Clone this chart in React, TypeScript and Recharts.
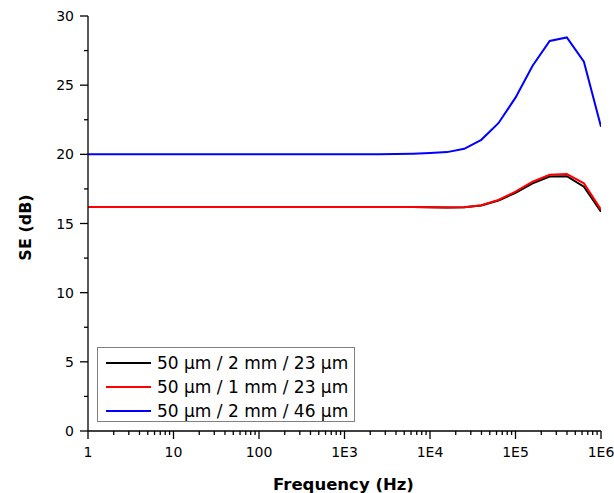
import { Label, Legend, Line, LineChart, XAxis, YAxis } from "recharts";

// frequency sweep, 5 points per decade
const FREQ_HZ = [
  1, 1.585, 2.512, 3.981, 6.31, 10, 15.85, 25.12, 39.81, 63.1, 100, 158.5,
  251.2, 398.1, 631, 1000, 1585, 2512, 3981, 6310, 10000, 15850, 25120, 39810,
  63100, 100000, 158500, 251200, 398100, 631000, 1000000,
];

const SE_2MM_23UM = [
  16.2, 16.2, 16.2, 16.2, 16.2, 16.2, 16.2, 16.2, 16.2, 16.2, 16.2, 16.2, 16.2,
  16.2, 16.2, 16.2, 16.2, 16.2, 16.2, 16.2, 16.18, 16.16, 16.18, 16.3, 16.66,
  17.22, 17.9, 18.4, 18.42, 17.66, 15.85,
];
const SE_1MM_23UM = [
  16.2, 16.2, 16.2, 16.2, 16.2, 16.2, 16.2, 16.2, 16.2, 16.2, 16.2, 16.2, 16.2,
  16.2, 16.2, 16.2, 16.2, 16.2, 16.2, 16.2, 16.18, 16.16, 16.18, 16.32, 16.7,
  17.3, 18.02, 18.52, 18.57, 17.9, 16.0,
];
const SE_2MM_46UM = [
  20.0, 20.0, 20.0, 20.0, 20.0, 20.0, 20.0, 20.0, 20.0, 20.0, 20.0, 20.0, 20.0,
  20.0, 20.0, 20.0, 20.0, 20.0, 20.02, 20.05, 20.1, 20.16, 20.4, 21.05, 22.25,
  24.1, 26.4, 28.2, 28.45, 26.7, 22.0,
];

const SERIES_NAMES = [
  "50 μm / 2 mm / 23 μm",
  "50 μm / 1 mm / 23 μm",
  "50 μm / 2 mm / 46 μm",
];
const SERIES_COLORS = ["#000000", "#ff0000", "#0000ff"];

const X_MAJOR = [1, 10, 100, 1000, 10000, 100000, 1000000];
const X_MAJOR_LABELS = ["1", "10", "100", "1E3", "1E4", "1E5", "1E6"];
const Y_MAJOR = [0, 5, 10, 15, 20, 25, 30];

const data = FREQ_HZ.map((f, i) => ({
  f,
  s0: SE_2MM_23UM[i],
  s1: SE_1MM_23UM[i],
  s2: SE_2MM_46UM[i],
}));

const xTicks = [
  ...X_MAJOR,
  ...X_MAJOR.slice(0, -1).flatMap((d) => [2, 3, 4, 5, 6, 7, 8, 9].map((m) => m * d)),
].sort((a, b) => a - b);
const yTicks = Y_MAJOR.flatMap((v, i) => (i < Y_MAJOR.length - 1 ? [v, v + 2.5] : [v]));

const FONT = "DejaVu Sans";
const AXIS_W = 1.3;

function XTick({ x, y, payload }: any) {
  const i = X_MAJOR.indexOf(payload.value);
  const major = i >= 0;
  return (
    <g>
      <line x1={x} x2={x} y1={y} y2={y + (major ? 8 : 4)} stroke="#000" strokeWidth={AXIS_W} />
      {major && (
        <text x={x} y={y + 25.5} textAnchor="middle" fontSize={14} fontFamily={FONT} fill="#000">
          {X_MAJOR_LABELS[i]}
        </text>
      )}
    </g>
  );
}

function YTick({ x, y, payload }: any) {
  const major = Y_MAJOR.includes(payload.value);
  return (
    <g>
      <line x1={x - (major ? 8 : 4)} x2={x} y1={y} y2={y} stroke="#000" strokeWidth={AXIS_W} />
      {major && (
        <text x={x - 14} y={y + 5} textAnchor="end" fontSize={14} fontFamily={FONT} fill="#000">
          {payload.value}
        </text>
      )}
    </g>
  );
}

// legend in series order (recharts would sort the payload by name)
function LegendBox() {
  return (
    <div
      style={{
        width: 258,
        height: 75,
        boxSizing: "border-box",
        border: "1px solid #808080",
        background: "#fff",
        paddingTop: 2.5,
        paddingLeft: 8,
      }}
    >
      {SERIES_NAMES.map((name, i) => (
        <div key={name} style={{ display: "flex", alignItems: "center", height: 24 }}>
          <svg width={45} height={4} style={{ display: "block" }}>
            <line x1={0} x2={45} y1={2} y2={2} stroke={SERIES_COLORS[i]} strokeWidth={2} />
          </svg>
          <span
            style={{
              marginLeft: 6,
              fontFamily: FONT,
              fontSize: 17,
              lineHeight: "24px",
              whiteSpace: "nowrap",
              color: "#000",
            }}
          >
            {name}
          </span>
        </div>
      ))}
    </div>
  );
}

export default function App() {
  return (
    <div style={{ position: "absolute", left: 0, top: 0, width: 614, height: 493, background: "#fff" }}>
      <LineChart
        width={614}
        height={493}
        data={data}
        margin={{ top: 16, right: 13, bottom: 0, left: 14 }}
      >
        <XAxis
          dataKey="f"
          type="number"
          scale="log"
          domain={[1, 1000000]}
          allowDataOverflow
          ticks={xTicks}
          interval={0}
          tickSize={0}
          tickMargin={0}
          tickLine={false}
          tick={<XTick />}
          axisLine={{ stroke: "#000", strokeWidth: AXIS_W }}
          height={62}
        >
          <Label
            content={(p: any) => {
              const vb = p.viewBox || { x: 88, y: 431, width: 513 };
              return (
                <text
                  x={vb.x + vb.width / 2 - 1}
                  y={vb.y + 59}
                  textAnchor="middle"
                  fontSize={16.5}
                  fontWeight="bold"
                  fontFamily={FONT}
                  fill="#000"
                >
                  Frequency (Hz)
                </text>
              );
            }}
          />
        </XAxis>
        <YAxis
          type="number"
          domain={[0, 30]}
          allowDataOverflow
          ticks={yTicks}
          interval={0}
          tickSize={0}
          tickMargin={0}
          tickLine={false}
          tick={<YTick />}
          axisLine={{ stroke: "#000", strokeWidth: AXIS_W }}
          width={74}
        >
          <Label
            content={(p: any) => {
              const vb = p.viewBox || { x: 14, y: 16, height: 415 };
              const cx = vb.x + 17;
              const cy = vb.y + vb.height / 2 + 4;
              return (
                <text
                  x={cx}
                  y={cy}
                  transform={`rotate(-90 ${cx} ${cy})`}
                  textAnchor="middle"
                  fontSize={16}
                  fontWeight="bold"
                  fontFamily={FONT}
                  fill="#000"
                >
                  SE (dB)
                </text>
              );
            }}
          />
        </YAxis>
        <Legend
          layout="horizontal"
          verticalAlign="middle"
          align="center"
          wrapperStyle={{ left: 97, top: 347, width: 258, height: 75 }}
          content={() => <LegendBox />}
        />
        {["s0", "s1", "s2"].map((k, i) => (
          <Line
            key={k}
            dataKey={k}
            name={SERIES_NAMES[i]}
            type="linear"
            stroke={SERIES_COLORS[i]}
            strokeWidth={2}
            dot={false}
            activeDot={false}
            isAnimationActive={false}
          />
        ))}
      </LineChart>
    </div>
  );
}
